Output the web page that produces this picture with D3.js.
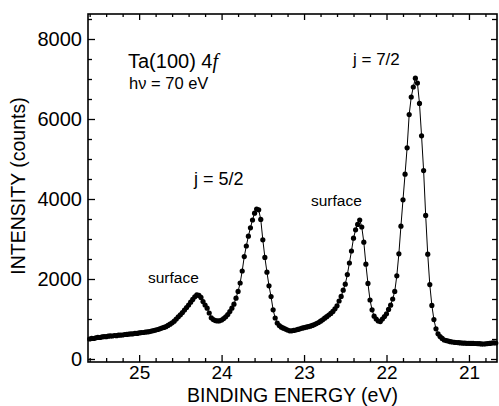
<!DOCTYPE html>
<html>
<head>
<meta charset="utf-8">
<script src="https://cdn.jsdelivr.net/npm/d3@7"></script>
<style>
  body { margin: 0; background: #fff; }
  svg { display: block; }
  text { font-family: "Liberation Sans", Arial, Helvetica, sans-serif; fill: #000; }
</style>
</head>
<body>
<div class="svg-content"></div>
<script>
// binding energy (eV), one entry per measured point
var energy = [
  25.600, 25.575, 25.550, 25.525, 25.500, 25.475, 25.450, 25.425, 25.400, 25.375,
  25.350, 25.325, 25.300, 25.275, 25.250, 25.225, 25.200, 25.175, 25.150, 25.125,
  25.100, 25.075, 25.050, 25.025, 25.000, 24.975, 24.950, 24.925, 24.900, 24.875,
  24.850, 24.825, 24.800, 24.775, 24.750, 24.725, 24.700, 24.675, 24.650, 24.625,
  24.600, 24.575, 24.550, 24.525, 24.500, 24.475, 24.450, 24.425, 24.400, 24.375,
  24.350, 24.325, 24.300, 24.275, 24.250, 24.225, 24.200, 24.175, 24.150, 24.125,
  24.100, 24.075, 24.050, 24.025, 24.000, 23.975, 23.950, 23.925, 23.900, 23.875,
  23.850, 23.825, 23.800, 23.775, 23.750, 23.725, 23.700, 23.675, 23.650, 23.625,
  23.600, 23.575, 23.550, 23.525, 23.500, 23.475, 23.450, 23.425, 23.400, 23.375,
  23.350, 23.325, 23.300, 23.275, 23.250, 23.225, 23.200, 23.175, 23.150, 23.125,
  23.100, 23.075, 23.050, 23.025, 23.000, 22.975, 22.950, 22.925, 22.900, 22.875,
  22.850, 22.825, 22.800, 22.775, 22.750, 22.725, 22.700, 22.675, 22.650, 22.625,
  22.600, 22.575, 22.550, 22.525, 22.500, 22.475, 22.450, 22.425, 22.400, 22.375,
  22.350, 22.325, 22.300, 22.275, 22.250, 22.225, 22.200, 22.175, 22.150, 22.125,
  22.100, 22.075, 22.050, 22.025, 22.000, 21.975, 21.950, 21.925, 21.900, 21.875,
  21.850, 21.825, 21.800, 21.775, 21.750, 21.725, 21.700, 21.675, 21.650, 21.625,
  21.600, 21.575, 21.550, 21.525, 21.500, 21.475, 21.450, 21.425, 21.400, 21.375,
  21.350, 21.325, 21.300, 21.275, 21.250, 21.225, 21.200, 21.175, 21.150, 21.125,
  21.100, 21.075, 21.050, 21.025, 21.000, 20.975, 20.950, 20.925, 20.900, 20.875,
  20.850, 20.825, 20.800, 20.775, 20.750, 20.725, 20.700, 20.675
];

// intensity (counts)
var counts = [
  500, 515, 512, 530, 540, 538, 552, 560, 558, 570,
  578, 575, 588, 584, 595, 598, 600, 612, 615, 622,
  628, 630, 642, 640, 652, 660, 662, 672, 676, 686,
  698, 710, 724, 738, 755, 772, 790, 808, 840, 870,
  905, 945, 1000, 1055, 1105, 1160, 1225, 1285, 1350, 1420,
  1490, 1555, 1605, 1590, 1540, 1435, 1350, 1270, 1150, 1030,
  985, 960, 952, 955, 975, 1010, 1055, 1110, 1185, 1270,
  1370, 1520, 1690, 1900, 2200, 2560, 2825, 3070, 3280, 3475,
  3645, 3750, 3730, 3490, 2980, 2540, 2170, 1830, 1560, 1230,
  1025, 900, 835, 795, 770, 748, 725, 705, 705, 715,
  725, 740, 755, 770, 782, 795, 808, 820, 840, 860,
  885, 912, 945, 980, 1020, 1058, 1100, 1140, 1190, 1255,
  1330, 1450, 1565, 1720, 1870, 2110, 2400, 2700, 3020, 3230,
  3365, 3475, 3300, 2920, 2370, 1890, 1475, 1230, 1070, 1000,
  950, 935, 1000, 1060, 1130, 1240, 1345, 1500, 1690, 2080,
  2630, 3320, 3980, 4620, 5280, 6110, 6550, 6800, 7020, 6900,
  6390, 5580, 4710, 3590, 2620, 1860, 1340, 985, 755, 630,
  560, 515, 475, 460, 448, 432, 425, 418, 412, 408,
  402, 398, 395, 393, 392, 390, 390, 388, 385, 382,
  378, 375, 380, 385, 390, 398, 404, 400
];

var xTicks = [25, 24, 23, 22, 21];
var yTicks = [0, 2000, 4000, 6000, 8000];

var width = 499;
var height = 406;
var margin = {top: 14, right: 2, bottom: 44, left: 88};
var w = width - margin.left - margin.right;
var h = height - margin.top - margin.bottom;

var svg = d3.select(".svg-content")
  .append("svg")
  .attr("width", width)
  .attr("height", height);

var g = svg.append("g")
  .attr("transform", "translate(" + margin.left + "," + margin.top + ")");

var x = d3.scaleLinear().domain([25.62, 20.66]).range([0, w]);
var y = d3.scaleLinear().domain([-75, 8625]).range([h, 0]);

var xMinor = d3.range(104, 129).map(function(d) { return d / 5; })
  .filter(function(d) { return Math.abs(d - Math.round(d)) > 0.01; });
var yMinor = d3.range(500, 8501, 500)
  .filter(function(d) { return d % 2000 != 0; });

function styleAxis(sel) {
  sel.select(".domain").remove();
  sel.selectAll("line").attr("stroke", "#000").attr("stroke-width", 1.3);
  sel.selectAll("text").attr("font-size", "20px").attr("fill", "#000");
}

// bottom
g.append("g").attr("transform", "translate(0," + h + ")")
  .call(d3.axisBottom(x).tickValues(xTicks).tickSize(-7).tickPadding(3).tickFormat(d3.format("d")))
  .call(styleAxis)
  .selectAll("text").attr("font-size", "19px");
g.append("g").attr("transform", "translate(0," + h + ")")
  .call(d3.axisBottom(x).tickValues(xMinor).tickSize(-4).tickFormat(""))
  .call(styleAxis);
// top
g.append("g")
  .call(d3.axisTop(x).tickValues(xTicks).tickSize(-6).tickFormat(""))
  .call(styleAxis);
g.append("g")
  .call(d3.axisTop(x).tickValues(xMinor).tickSize(-3).tickFormat(""))
  .call(styleAxis);
// left
g.append("g")
  .call(d3.axisLeft(y).tickValues(yTicks).tickSize(-7).tickPadding(6).tickFormat(d3.format("d")))
  .call(styleAxis);
g.append("g")
  .call(d3.axisLeft(y).tickValues(yMinor).tickSize(-4).tickFormat(""))
  .call(styleAxis);
// right
g.append("g").attr("transform", "translate(" + w + ",0)")
  .call(d3.axisRight(y).tickValues(yTicks).tickSize(-6).tickFormat(""))
  .call(styleAxis);
g.append("g").attr("transform", "translate(" + w + ",0)")
  .call(d3.axisRight(y).tickValues(yMinor).tickSize(-5).tickFormat(""))
  .call(styleAxis);

g.append("rect")
  .attr("width", w).attr("height", h)
  .attr("fill", "none").attr("stroke", "#000").attr("stroke-width", 1.6);

var pts = energy.map(function(e, i) { return {e: e, c: counts[i]}; });

var line = d3.line()
  .x(function(d) { return x(d.e); })
  .y(function(d) { return y(d.c); });

g.append("path")
  .datum(pts)
  .attr("d", line)
  .attr("fill", "none")
  .attr("stroke", "#000")
  .attr("stroke-width", 1);

g.selectAll("circle")
  .data(pts)
  .enter()
  .append("circle")
  .attr("cx", function(d) { return x(d.e); })
  .attr("cy", function(d) { return y(d.c); })
  .attr("r", 2.6)
  .attr("fill", "#000");

// axis titles
svg.append("text")
  .attr("x", margin.left + w / 2)
  .attr("y", 402)
  .attr("text-anchor", "middle")
  .attr("font-size", "19.5px")
  .text("BINDING ENERGY (eV)");

svg.append("text")
  .attr("transform", "translate(25,186) rotate(-90)")
  .attr("text-anchor", "middle")
  .attr("font-size", "19.5px")
  .text("INTENSITY (counts)");

// annotations
var title = svg.append("text")
  .attr("x", 128).attr("y", 68)
  .attr("font-size", "20px");
title.append("tspan").text("Ta(100) 4");
title.append("tspan")
  .attr("font-family", "'Liberation Serif', 'DejaVu Serif', serif")
  .attr("font-style", "italic")
  .text("f");

svg.append("text").attr("x", 129).attr("y", 89).attr("font-size", "16.5px").text("h\u03BD = 70 eV");
svg.append("text").attr("x", 194).attr("y", 185).attr("font-size", "18px").text("j = 5/2");
svg.append("text").attr("x", 353).attr("y", 65).attr("font-size", "17px").text("j = 7/2");
svg.append("text").attr("x", 148).attr("y", 283).attr("font-size", "15.5px").text("surface");
svg.append("text").attr("x", 311).attr("y", 206).attr("font-size", "15.5px").text("surface");
</script>
</body>
</html>
